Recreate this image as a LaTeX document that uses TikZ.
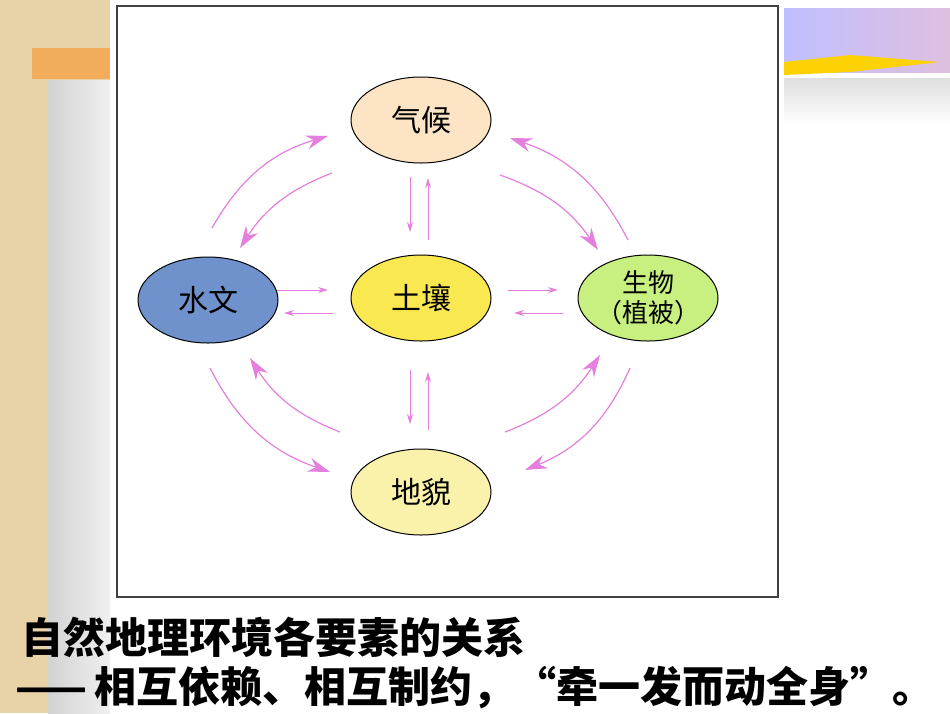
\documentclass[tikz,border=0pt]{standalone}
\usepackage{fontspec}
\newfontfamily\cjk{Noto Sans CJK SC}
\usetikzlibrary{arrows.meta,shadings,shapes.geometric}
\definecolor{tan}{HTML}{E8D3A8}
\definecolor{pk}{HTML}{E47FDD}
\tikzset{
  el/.style={ellipse,draw=black,line width=1pt,minimum width=140pt,minimum height=86pt,inner sep=0pt,font=\cjk\fontsize{30}{34}\selectfont},
  ar/.style={pk,line width=1.2pt,-{Stealth[length=22pt,width=14pt]}},
  sar/.style={pk,line width=1pt,-{Stealth[length=10pt,width=6pt]}},
}
\begin{document}
\begin{tikzpicture}[x=1pt,y=-1pt]
\useasboundingbox (0,0) rectangle (950,713);
\fill[tan] (0,0) rectangle (950,713);
\fill[white] (110,0) rectangle (950,713);
\shade[left color=gray!35,right color=gray!12] (48,80) rectangle (110,713);
\fill[orange!45!tan] (32,48) rectangle (110,79);
\shade[top color=gray!25,bottom color=white] (784,78) rectangle (950,125);
\shade[left color=blue!25,right color=violet!25] (784,8) rectangle (950,72);
\fill[yellow!70!orange] (784,62) -- (850,55) -- (940,62) -- (850,72) -- (784,75) -- cycle;
\draw[fill=white,draw=black!75,line width=2pt] (117,6) rectangle (778,597);

\node[el,fill={rgb,255:red,252;green,228;blue,196}] (qh) at (421,120) {气候};
\node[el,fill={rgb,255:red,112;green,146;blue,204}] (sw) at (208,300) {水文};
\node[el,fill={rgb,255:red,250;green,232;blue,80}] (tr) at (421,298) {土壤};
\node[el,fill={rgb,255:red,200;green,240;blue,128},align=center,inner sep=-8pt,font=\cjk\fontsize{26}{30}\selectfont] (sv) at (648,298) {生物\\（植被）};
\node[el,fill={rgb,255:red,250;green,242;blue,170}] (dm) at (421,492) {地貌};

\coordinate (a1) at (212,228); \coordinate (a2) at (328,136);
\coordinate (b1) at (332,173); \coordinate (b2) at (240,248);
\draw[ar] (a1) to[bend left=22] (a2);
\draw[ar] (b1) to[bend right=18] (b2);
\coordinate (c1) at (628,240); \coordinate (c2) at (510,138);
\coordinate (d1) at (500,175); \coordinate (d2) at (598,250);
\draw[ar] (c1) to[bend right=22] (c2);
\draw[ar] (d1) to[bend left=18] (d2);
\coordinate (e1) at (210,368); \coordinate (e2) at (330,472);
\coordinate (f1) at (340,432); \coordinate (f2) at (250,358);
\draw[ar] (e1) to[bend right=22] (e2);
\draw[ar] (f1) to[bend left=18] (f2);
\coordinate (g1) at (630,368); \coordinate (g2) at (525,470);
\coordinate (h1) at (505,432); \coordinate (h2) at (600,355);
\draw[ar] (g1) to[bend left=22] (g2);
\draw[ar] (h1) to[bend right=18] (h2);

\draw[sar] (410,177) -- (410,232);
\draw[sar] (428,240) -- (428,178);
\draw[sar] (410,370) -- (410,424);
\draw[sar] (428,430) -- (428,372);
\draw[sar] (277,290) -- (328,290);
\draw[sar] (333,313) -- (284,313);
\draw[sar] (508,290) -- (558,290);
\draw[sar] (563,313) -- (514,313);

\node[anchor=west,font=\cjk\bfseries\fontsize{42}{46}\selectfont] (t1) at (18,637) {自然地理环境各要素的关系};
\node[anchor=west,font=\cjk\bfseries\fontsize{42}{46}\selectfont] (t2) at (12,688) {——\,相互依赖、相互制约，“牵一发而动全身”。};
\end{tikzpicture}
\end{document}
